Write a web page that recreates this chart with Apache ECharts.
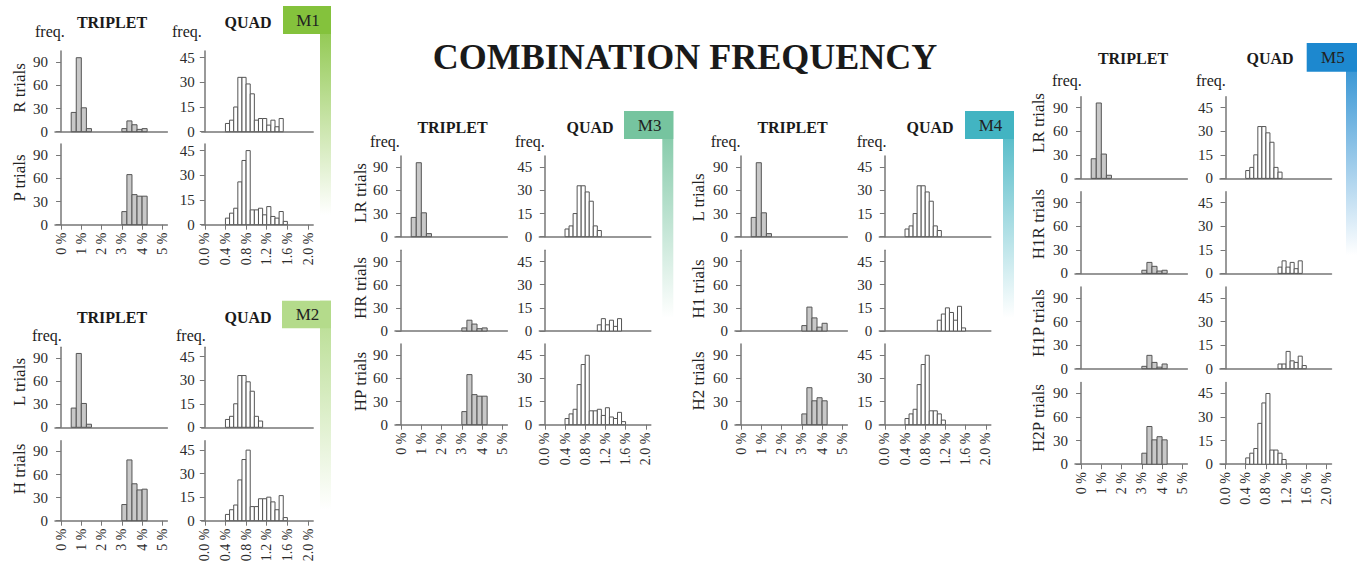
<!DOCTYPE html>
<html>
<head>
<meta charset="utf-8">
<script src="https://cdn.jsdelivr.net/npm/echarts@6/dist/echarts.min.js"></script>
<style>
html,body{margin:0;padding:0;background:#fff;}
#chart{width:1357px;height:567px;}
</style>
</head>
<body>
<div id="chart"></div>
<script>
// ---------- tick definitions ----------
const tripTickValues = [0, 1, 2, 3, 4, 5];
const tripTickLabels = ['0 %', '1 %', '2 %', '3 %', '4 %', '5 %'];
const quadTickValues = [0, 0.4, 0.8, 1.2, 1.6, 2.0];
const quadTickLabels = ['0.0 %', '0.4 %', '0.8 %', '1.2 %', '1.6 %', '2.0 %'];
const tripYTicks = [0, 30, 60, 90];
const quadYTicks = [0, 15, 30, 45];
const tripBinWidth = 0.25;
const quadBinWidth = 0.08;

// ---------- histogram values (start of first bin, counts per bin) ----------
const R_tripStart = 0.5;  const R_trip = [25, 96, 31, 4, 0, 0, 0, 0, 0, 0, 4, 14, 9, 3, 4];
const R_quadStart = 0.4;  const R_quad = [5, 7, 15, 33, 33, 29, 23, 7, 8, 8, 4, 7, 3, 8];
const P_tripStart = 3.0;  const P_trip = [17, 65, 39, 37, 37];
const P_quadStart = 0.4;  const P_quad = [4, 7, 10, 26, 39, 45, 9, 9, 10, 6, 11, 5, 4, 8, 2];

const L_tripStart = 0.5;  const L_trip = [25, 96, 31, 4];
const L_quadStart = 0.4;  const L_quad = [5, 7, 15, 33, 33, 29, 23, 7, 4];
const H_tripStart = 3.0;  const H_trip = [21, 79, 48, 40, 41];
const H_quadStart = 0.4;  const H_quad = [4, 7, 10, 26, 39, 45, 9, 9, 14, 14, 15, 12, 7, 16, 2];

const LR_tripStart = 0.5; const LR_trip = [25, 96, 31, 4];
const LR_quadStart = 0.4; const LR_quad = [5, 7, 15, 33, 33, 29, 23, 7, 4];
const HR_tripStart = 3.0; const HR_trip = [4, 14, 9, 3, 4];
const HR_quadStart = 1.04; const HR_quad = [4, 8, 4, 7, 3, 8];
const HP_tripStart = 3.0; const HP_trip = [17, 65, 39, 37, 37];
const HP_quadStart = 0.4; const HP_quad = [4, 7, 10, 26, 39, 45, 9, 9, 10, 6, 11, 5, 4, 8, 2];

const H1_tripStart = 3.0; const H1_trip = [7, 31, 17, 5, 10];
const H1_quadStart = 1.04; const H1_quad = [7, 11, 15, 12, 7, 16, 2];
const H2_tripStart = 3.0; const H2_trip = [14, 48, 31, 35, 31];
const H2_quadStart = 0.4; const H2_quad = [4, 7, 10, 26, 39, 45, 9, 9, 7, 3];

const H1R_tripStart = 3.0; const H1R_trip = [4, 14, 9, 3, 4];
const H1R_quadStart = 1.04; const H1R_quad = [4, 8, 4, 7, 3, 8];
const H1P_tripStart = 3.0; const H1P_trip = [3, 17, 8, 2, 6];
const H1P_quadStart = 1.04; const H1P_quad = [3, 3, 11, 5, 4, 8, 2];
const H2P_tripStart = 3.0; const H2P_trip = [14, 48, 31, 35, 31];
const H2P_quadStart = 0.4; const H2P_quad = [4, 7, 10, 26, 39, 45, 9, 9, 7, 3];

// ---------- layout (positions / styles) ----------
const SERIF = '"Liberation Serif", "DejaVu Serif", serif';
const groups = [
  { name: 'M1', color: '#84c23c', box: [283, 6, 48, 28], barEnd: 215,
    tripLeft: 55, quadLeft: 201.7, tops: [51, 144], h: 80.7, tripMax: 104.7, quadMax: 49, quadMin: -0.06,
    labelX: 19, titleY: 22, tripTitleX: 112, quadTitleX: 248, freqX: [35, 172], freqY: 31,
    rows: [
      { label: 'R trials', labelY: 88, trip: [R_tripStart, R_trip], quad: [R_quadStart, R_quad] },
      { label: 'P trials', labelY: 178, trip: [P_tripStart, P_trip], quad: [P_quadStart, P_quad] }
    ] },
  { name: 'M2', color: '#b4db8b', box: [282, 300.7, 49, 27.6], barEnd: 510,
    tripLeft: 55, quadLeft: 201.7, tops: [347.3, 440.7], h: 80, tripMax: 104, quadMax: 51, quadMin: -0.06,
    labelX: 19, titleY: 317.5, tripTitleX: 112, quadTitleX: 248, freqX: [32, 176], freqY: 335,
    rows: [
      { label: 'L trials', labelY: 382, trip: [L_tripStart, L_trip], quad: [L_quadStart, L_quad] },
      { label: 'H trials', labelY: 469, trip: [H_tripStart, H_trip], quad: [H_quadStart, H_quad] }
    ] },
  { name: 'M3', color: '#76c49f', box: [624, 111, 49.3, 28], barEnd: 318,
    tripLeft: 395, quadLeft: 539.3, tops: [156, 250.3, 344], h: 80.7, tripMax: 104.7, quadMax: 52.3, quadMin: -0.11,
    labelX: 360, titleY: 127.7, tripTitleX: 452.5, quadTitleX: 590, freqX: [370, 515], freqY: 141,
    rows: [
      { label: 'LR trials', labelY: 193, trip: [LR_tripStart, LR_trip], quad: [LR_quadStart, LR_quad] },
      { label: 'HR trials', labelY: 288, trip: [HR_tripStart, HR_trip], quad: [HR_quadStart, HR_quad] },
      { label: 'HP trials', labelY: 381.5, trip: [HP_tripStart, HP_trip], quad: [HP_quadStart, HP_quad] }
    ] },
  { name: 'M4', color: '#42b4c2', box: [965, 111, 49, 28], barEnd: 318,
    tripLeft: 735, quadLeft: 879.3, tops: [156, 250.3, 344], h: 80.7, tripMax: 104.7, quadMax: 52.3, quadMin: -0.11,
    labelX: 698, titleY: 127.7, tripTitleX: 792.5, quadTitleX: 930, freqX: [710.7, 856.7], freqY: 141,
    rows: [
      { label: 'L trials', labelY: 197.5, trip: [L_tripStart, L_trip], quad: [L_quadStart, L_quad] },
      { label: 'H1 trials', labelY: 289, trip: [H1_tripStart, H1_trip], quad: [H1_quadStart, H1_quad] },
      { label: 'H2 trials', labelY: 381, trip: [H2_tripStart, H2_trip], quad: [H2_quadStart, H2_quad] }
    ] },
  { name: 'M5', color: '#1d88cf', box: [1306.7, 43, 50.3, 28.7], barEnd: 255,
    tripLeft: 1075, quadLeft: 1220, tops: [96.7, 191.7, 287, 382.5], h: 81.7, tripMax: 104, quadMax: 52, quadMin: -0.11,
    labelX: 1038, titleY: 58.3, tripTitleX: 1133, quadTitleX: 1270, freqX: [1052, 1196], freqY: 80,
    rows: [
      { label: 'LR trials', labelY: 123, trip: [LR_tripStart, LR_trip], quad: [LR_quadStart, LR_quad] },
      { label: 'H1R trials', labelY: 224, trip: [H1R_tripStart, H1R_trip], quad: [H1R_quadStart, H1R_quad] },
      { label: 'H1P trials', labelY: 323, trip: [H1P_tripStart, H1P_trip], quad: [H1P_quadStart, H1P_quad] },
      { label: 'H2P trials', labelY: 418, trip: [H2P_tripStart, H2P_trip], quad: [H2P_quadStart, H2P_quad] }
    ] }
];

const AXIS_COLOR = '#777';
const LABEL_COLOR = '#2b2b2b';
const TRIP_MIN = -0.3, TRIP_MAX = 5.25, QUAD_MAX = 2.1;
const TRIP_WIDTH = 112.4, QUAD_WIDTH = 111.5;

function bins(start, width, counts) {
  return counts.map((c, i) => [start + i * width, start + (i + 1) * width, c]);
}
function makeRender(fill) {
  return function (params, api) {
    const v = api.value(2);
    if (!v) return null;
    const a = api.coord([api.value(0), v]);
    const b = api.coord([api.value(1), 0]);
    return { type: 'rect', shape: { x: a[0], y: a[1], width: b[0] - a[0], height: b[1] - a[1] },
      style: { fill: fill, stroke: '#555', lineWidth: 1 } };
  };
}

const grid = [], xAxis = [], yAxis = [], series = [], graphic = [];

graphic.push({ type: 'text', x: 685, y: 57, style: { text: 'COMBINATION FREQUENCY', x: 0, y: 0,
  textAlign: 'center', textVerticalAlign: 'middle', verticalAlign: 'middle',
  font: 'bold 36px ' + SERIF, fill: '#1a1a1a' } });

groups.forEach(g => {
  const [bx, by, bw, bh] = g.box;
  graphic.push({ type: 'rect', z: 0, shape: { x: bx + bw - 11, y: by, width: 11, height: g.barEnd - by },
    style: { fill: { type: 'linear', x: 0, y: 0, x2: 0, y2: 1,
      colorStops: [{ offset: 0, color: g.color }, { offset: 1, color: '#ffffff' }] } } });
  graphic.push({ type: 'rect', z: 1, shape: { x: bx, y: by, width: bw, height: bh }, style: { fill: g.color } });
  graphic.push({ type: 'text', z: 2, x: bx + bw / 2 + 1, y: by + bh / 2, style: { text: g.name, x: 0, y: 0,
    textAlign: 'center', textVerticalAlign: 'middle', verticalAlign: 'middle', font: '17px ' + SERIF, fill: '#222' } });
  [['TRIPLET', g.tripTitleX], ['QUAD', g.quadTitleX]].forEach(([t, x]) => {
    graphic.push({ type: 'text', x: x, y: g.titleY, style: { text: t, x: 0, y: 0, textAlign: 'center',
      textVerticalAlign: 'middle', verticalAlign: 'middle', font: 'bold 16px ' + SERIF, fill: '#1a1a1a' } });
  });
  g.freqX.forEach(x => {
    graphic.push({ type: 'text', x: x, y: g.freqY, style: { text: 'freq.', x: 0, y: 0, textAlign: 'left',
      textVerticalAlign: 'middle', verticalAlign: 'middle', font: '16px ' + SERIF, fill: '#222' } });
  });

  g.rows.forEach((row, ri) => {
    const isBottom = ri === g.rows.length - 1;
    graphic.push({ type: 'text', x: g.labelX, y: row.labelY, rotation: Math.PI / 2,
      style: { text: row.label, x: 0, y: 0, textAlign: 'center', textVerticalAlign: 'middle', verticalAlign: 'middle',
        font: '17px ' + SERIF, fill: '#222' } });

    const specs = [
      { left: g.tripLeft, width: TRIP_WIDTH, min: TRIP_MIN, max: TRIP_MAX, ymax: g.tripMax,
        xt: tripTickValues, xl: tripTickLabels, yt: tripYTicks, bw: tripBinWidth, d: row.trip, fill: '#c8c8c8' },
      { left: g.quadLeft, width: QUAD_WIDTH, min: g.quadMin, max: QUAD_MAX, ymax: g.quadMax,
        xt: quadTickValues, xl: quadTickLabels, yt: quadYTicks, bw: quadBinWidth, d: row.quad, fill: '#ffffff' }
    ];
    specs.forEach(s => {
      const idx = grid.length;
      grid.push({ left: s.left, top: g.tops[ri], width: s.width, height: g.h, containLabel: false });
      xAxis.push({ type: 'value', gridIndex: idx, min: s.min, max: s.max,
        axisLine: { show: true, onZero: false, lineStyle: { color: AXIS_COLOR, width: 1.5 } },
        axisTick: { show: isBottom, customValues: s.xt, length: 5, lineStyle: { color: AXIS_COLOR, width: 1 } },
        axisLabel: { show: isBottom, customValues: s.xt, rotate: 90, margin: 8,
          formatter: v => { const k = s.xt.findIndex(t => Math.abs(t - v) < 1e-6); return k >= 0 ? s.xl[k] : ''; },
          fontFamily: SERIF, fontSize: 14, color: LABEL_COLOR },
        splitLine: { show: false } });
      yAxis.push({ type: 'value', gridIndex: idx, min: 0, max: s.ymax,
        axisLine: { show: true, lineStyle: { color: AXIS_COLOR, width: 1.5 } },
        axisTick: { show: true, customValues: s.yt, length: 5, lineStyle: { color: AXIS_COLOR, width: 1 } },
        axisLabel: { customValues: s.yt, margin: 7, fontFamily: SERIF, fontSize: 15, color: LABEL_COLOR },
        splitLine: { show: false } });
      series.push({ type: 'custom', xAxisIndex: idx, yAxisIndex: idx, silent: true,
        encode: { x: [0, 1], y: 2 }, data: bins(s.d[0], s.bw, s.d[1]), renderItem: makeRender(s.fill) });
    });
  });
});

const chart = echarts.init(document.getElementById('chart'), null, { renderer: 'svg' });
chart.setOption({ animation: false, backgroundColor: '#fff', grid, xAxis, yAxis, series, graphic });
</script>
</body>
</html>
